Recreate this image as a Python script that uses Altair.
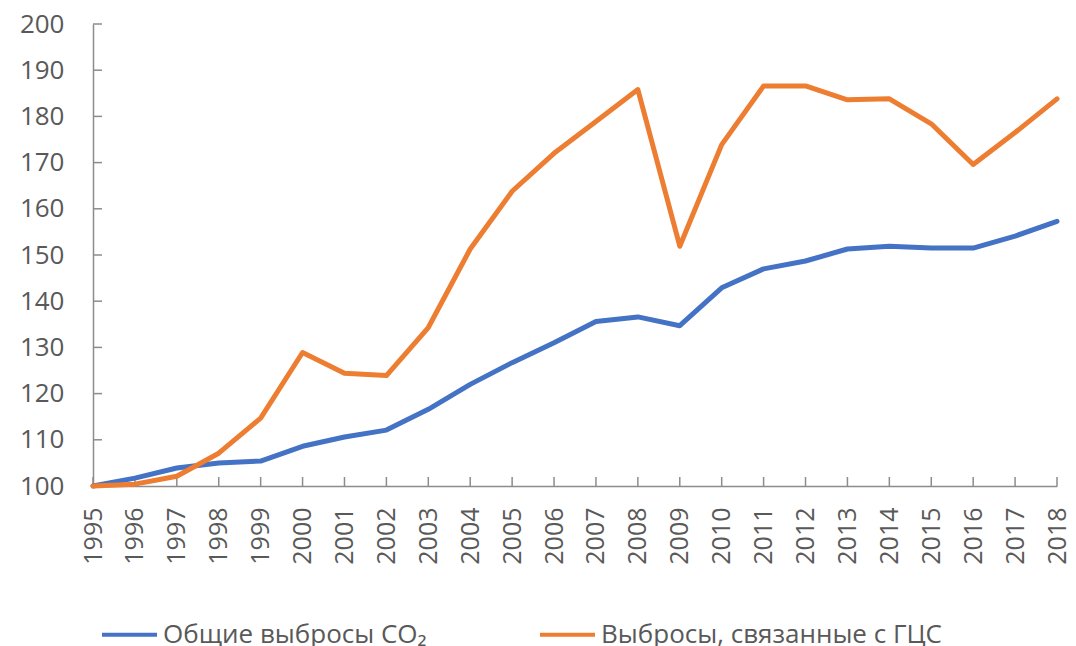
import altair as alt
import pandas as pd

years = list(range(1995, 2019))
co2_total = [100, 101.7, 103.9, 105.0, 105.4, 108.6, 110.6, 112.1, 116.6, 122.0, 126.7, 131.0,
             135.6, 136.6, 134.7, 142.9, 147.0, 148.7, 151.3, 151.9, 151.5, 151.5, 154.1, 157.3]
gvc_related = [100, 100.4, 102.1, 107.1, 114.7, 128.9, 124.4, 123.9, 134.3, 151.3, 163.8, 172.0,
               178.9, 185.8, 151.9, 173.9, 186.6, 186.6, 183.6, 183.8, 178.4, 169.6, 176.5, 183.8]
series_names = ["Общие выбросы CO₂", "Выбросы, связанные с ГЦС"]
series_colors = ["#4472C4", "#ED7D31"]
y_ticks = list(range(100, 201, 10))

FONT = "Open Sans"
GRAY = "#595959"
AXIS_GRAY = "#8c8c8c"
W, H = 964, 462

df = pd.DataFrame({
    "year": years * 2,
    "value": co2_total + gvc_related,
    "series": [series_names[0]] * len(years) + [series_names[1]] * len(years),
    "order": [0] * len(years) + [1] * len(years),
})

xscale = alt.Scale(domain=[1995, 2018], nice=False, zero=False)
yscale = alt.Scale(domain=[100, 200], nice=False, zero=False)

xaxis = alt.Axis(values=years, format="d", labelAngle=-90, title=None, ticks=False,
                 grid=False, labelFontSize=25, labelColor=GRAY, labelFont=FONT,
                 labelPadding=21, domainColor=AXIS_GRAY, domainWidth=1.5,
                 labelOverlap=False, labelFlush=False)
yaxis = alt.Axis(values=y_ticks, title=None, ticks=False, grid=False,
                 labelFontSize=26, labelColor=GRAY, labelFont=FONT,
                 labelPadding=29, domainColor=AXIS_GRAY, domainWidth=1.5)

ytick_df = pd.DataFrame({"value": y_ticks})
yticks = alt.Chart(ytick_df).mark_rule(color=AXIS_GRAY, strokeWidth=1.5).encode(
    y=alt.Y("value:Q", scale=yscale, axis=yaxis),
    x=alt.value(0), x2=alt.value(9),
)

xtick_df = pd.DataFrame({"year": years})
xticks = alt.Chart(xtick_df).mark_rule(color=AXIS_GRAY, strokeWidth=1.5).encode(
    x=alt.X("year:Q", scale=xscale, axis=xaxis),
    y=alt.value(H - 9), y2=alt.value(H),
)

lines = alt.Chart(df).mark_line(strokeWidth=5, strokeJoin="round", strokeCap="round").encode(
    x=alt.X("year:Q", scale=xscale, axis=xaxis),
    y=alt.Y("value:Q", scale=yscale, axis=yaxis),
    color=alt.Color("series:N",
                    scale=alt.Scale(domain=series_names, range=series_colors),
                    legend=alt.Legend(title=None, orient="none", direction="horizontal",
                                      legendX=7, legendY=581, symbolType="stroke",
                                      symbolSize=3025, symbolStrokeWidth=4,
                                      labelFontSize=26, labelColor=GRAY, labelFont=FONT,
                                      labelOffset=4, columnPadding=105, padding=0,
                                      labelLimit=600)),
    order="order:Q",
)

chart = alt.layer(yticks, xticks, lines).properties(
    width=W, height=H,
    background="white",
    autosize=alt.AutoSizeParams(type="none"),
    padding={"left": 85, "top": 16, "right": 11, "bottom": 160},
).configure_view(stroke=None)

chart.save("out.html", embed_options={"renderer": "svg", "actions": False})
